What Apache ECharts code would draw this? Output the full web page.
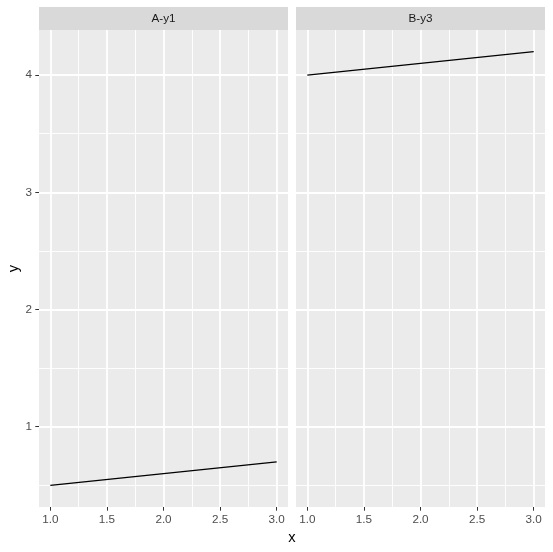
<!DOCTYPE html>
<html>
<head>
<meta charset="utf-8">
<script src="https://cdn.jsdelivr.net/npm/echarts@6/dist/echarts.min.js"></script>
<style>
  html, body { margin: 0; padding: 0; background: #ffffff; }
  #chart { width: 553px; height: 552px; }
</style>
</head>
<body>
<div id="chart"></div>
<script>
// facet data
const panels = ["A-y1", "B-y3"];
const xValues = [1, 2, 3];
const yA = [0.5, 0.6, 0.7];
const yB = [4.0, 4.1, 4.2];

// axes
const xTicks = [1.0, 1.5, 2.0, 2.5, 3.0];
const xMinor = [1.25, 1.75, 2.25, 2.75];
const yTicks = [1, 2, 3, 4];
const yMinor = [0.5, 1.5, 2.5, 3.5];
const xRange = [0.9, 3.1];
const yRange = [0.315, 4.385];

const font = "Liberation Sans, Arial, sans-serif";

function gridLines() {
  var d = [];
  xMinor.forEach(function (v) { d.push({ xAxis: v, lineStyle: { width: 0.9 } }); });
  yMinor.forEach(function (v) { d.push({ yAxis: v, lineStyle: { width: 0.9 } }); });
  xTicks.forEach(function (v) { d.push({ xAxis: v, lineStyle: { width: 1.8 } }); });
  yTicks.forEach(function (v) { d.push({ yAxis: v, lineStyle: { width: 1.8 } }); });
  return {
    silent: true,
    symbol: "none",
    z: 1,
    label: { show: false },
    lineStyle: { color: "#ffffff", type: "solid" },
    data: d,
  };
}

function xAxisOpt(idx) {
  return {
    type: "value",
    gridIndex: idx,
    min: xRange[0],
    max: xRange[1],
    axisLine: { show: false },
    splitLine: { show: false },
    axisTick: { show: true, customValues: xTicks, length: 3.7, lineStyle: { color: "#333333", width: 1 } },
    axisLabel: {
      customValues: xTicks,
      color: "#4D4D4D",
      fontSize: 11.7,
      fontFamily: font,
      margin: 7,
      formatter: function (v) { return v.toFixed(1); },
    },
  };
}

function yAxisOpt(idx) {
  return {
    type: "value",
    gridIndex: idx,
    min: yRange[0],
    max: yRange[1],
    axisLine: { show: false },
    splitLine: { show: false },
    name: idx === 0 ? "y" : "",
    nameLocation: "middle",
    nameGap: 17,
    nameTextStyle: { color: "#000000", fontSize: 14.7, fontFamily: font },
    axisTick: { show: idx === 0, customValues: yTicks, length: 3.7, lineStyle: { color: "#333333", width: 1 } },
    axisLabel: {
      show: idx === 0,
      customValues: yTicks,
      color: "#4D4D4D",
      fontSize: 11.7,
      fontFamily: font,
      margin: 7,
    },
  };
}

var chart = echarts.init(document.getElementById("chart"));
var option = {
  animation: false,
  backgroundColor: "#ffffff",
  grid: [
    { left: 39, right: 265, top: 30, bottom: 45, show: true, backgroundColor: "#EBEBEB", borderWidth: 0 },
    { left: 296, right: 8, top: 30, bottom: 45, show: true, backgroundColor: "#EBEBEB", borderWidth: 0 },
  ],
  xAxis: [xAxisOpt(0), xAxisOpt(1)],
  yAxis: [yAxisOpt(0), yAxisOpt(1)],
  series: [
    {
      type: "line",
      xAxisIndex: 0,
      yAxisIndex: 0,
      z: 3,
      symbol: "none",
      lineStyle: { color: "#000000", width: 1.3 },
      data: xValues.map(function (x, i) { return [x, yA[i]]; }),
      markLine: gridLines(),
    },
    {
      type: "line",
      xAxisIndex: 1,
      yAxisIndex: 1,
      z: 3,
      symbol: "none",
      lineStyle: { color: "#000000", width: 1.3 },
      data: xValues.map(function (x, i) { return [x, yB[i]]; }),
      markLine: gridLines(),
    },
  ],
  graphic: [
    { type: "rect", shape: { x: 39, y: 7, width: 249, height: 23 }, style: { fill: "#D9D9D9" } },
    { type: "rect", shape: { x: 296, y: 7, width: 249, height: 23 }, style: { fill: "#D9D9D9" } },
    { type: "text", x: 163.5, y: 18.5, style: { text: panels[0], align: "center", verticalAlign: "middle", fill: "#1A1A1A", font: "11.7px " + font } },
    { type: "text", x: 420.5, y: 18.5, style: { text: panels[1], align: "center", verticalAlign: "middle", fill: "#1A1A1A", font: "11.7px " + font } },
    { type: "text", x: 292, y: 538, style: { text: "x", align: "center", verticalAlign: "middle", fill: "#000000", font: "14.7px " + font } },
  ],
};
chart.setOption(option);
</script>
</body>
</html>
